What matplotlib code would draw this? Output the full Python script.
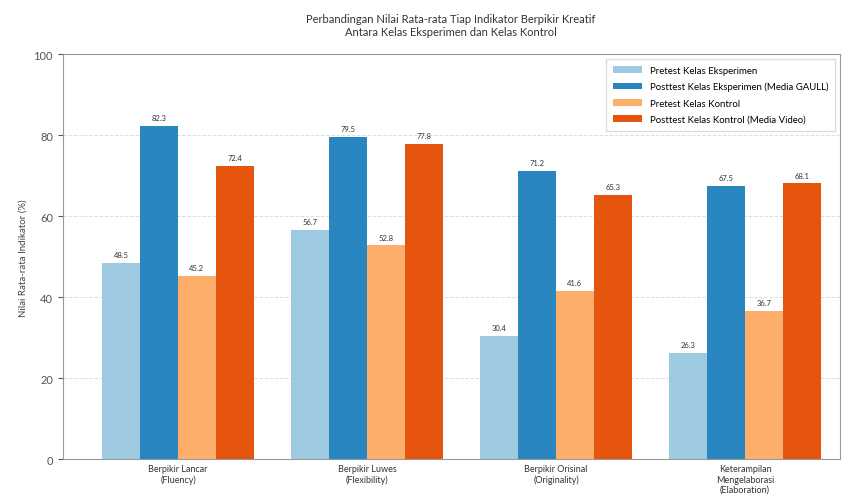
import numpy as np
import matplotlib
matplotlib.use("Agg")
import matplotlib.pyplot as plt

plt.rcParams['font.family'] = ['Lato', 'DejaVu Sans']

# data
indikator = ['Berpikir Lancar\n(Fluency)', 'Berpikir Luwes\n(Flexibility)',
             'Berpikir Orisinal\n(Originality)', 'Keterampilan\nMengelaborasi\n(Elaboration)']
pretest_eksp = [48.5, 56.7, 30.4, 26.3]
posttest_eksp = [82.3, 79.5, 71.2, 67.5]
pretest_kontrol = [45.2, 52.8, 41.6, 36.7]
posttest_kontrol = [72.4, 77.8, 65.3, 68.1]

labels = ['Pretest Kelas Eksperimen', 'Posttest Kelas Eksperimen (Media GAULL)',
          'Pretest Kelas Kontrol', 'Posttest Kelas Kontrol (Media Video)']
colors = ['#9ecae1', '#2a86c0', '#fdae6b', '#e6550d']

fig, ax = plt.subplots(figsize=(8.48, 5.02), dpi=100)
fig.subplots_adjust(left=0.074, right=0.99, top=0.89, bottom=0.083)

x = np.arange(len(indikator))
w = 0.2
series = [pretest_eksp, posttest_eksp, pretest_kontrol, posttest_kontrol]
for i, (vals, lab, c) in enumerate(zip(series, labels, colors)):
    bars = ax.bar(x + (i - 1.5) * w, vals, w, label=lab, color=c, zorder=3)
    for b, v in zip(bars, vals):
        ax.text(b.get_x() + b.get_width() / 2, v + 1.2, f'{v:.1f}',
                ha='center', va='bottom', fontsize=5.5, color='#333333')

ax.set_xlim(-0.61, 3.5)
ax.set_ylim(0, 100)
ax.set_xticks(x)
ax.set_xticklabels(indikator, fontsize=6.5, color='#333333')
ax.tick_params(axis='y', labelsize=8, colors='#555555')
ax.tick_params(axis='x', length=0)
ax.set_ylabel('Nilai Rata-rata Indikator (%)', fontsize=7, color='#444444')
ax.set_title('Perbandingan Nilai Rata-rata Tiap Indikator Berpikir Kreatif\n'
             'Antara Kelas Eksperimen dan Kelas Kontrol', fontsize=8, color='#333333', pad=14)
ax.grid(axis='y', linestyle='--', color='#dddddd', linewidth=0.7, zorder=0)
for s in ax.spines.values():
    s.set_color('#999999')
    s.set_linewidth(0.8)

ax.legend(loc='upper right', fontsize=6.9, framealpha=1, edgecolor='#dddddd',
          handlelength=3, borderpad=0.7, labelspacing=0.75, fancybox=False)

plt.savefig('out.png', dpi=100)
